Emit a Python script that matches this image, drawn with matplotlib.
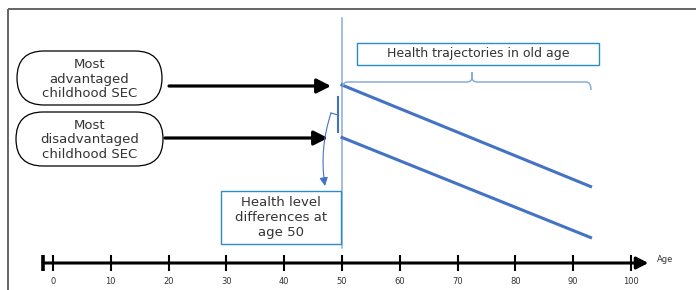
import numpy as np
import matplotlib.pyplot as plt
from matplotlib.patches import FancyBboxPatch, FancyArrowPatch, Rectangle
from matplotlib.path import Path
from matplotlib.patches import PathPatch

#%% values
tick_ages = [0, 10, 20, 30, 40, 50, 60, 70, 80, 90, 100]
axis_start, axis_end = -1.7, 103
traj_ages = [50, 93]
advantaged_health = [205, 103.5]
disadvantaged_health = [152.5, 52.5]
group_labels = ['Most\nadvantaged\nchildhood SEC', 'Most\ndisadvantaged\nchildhood SEC']

blue = '#4472c4'
light_blue = '#8eaadb'
box_blue = '#2a8ccc'
txt = '#333333'

fig = plt.figure(figsize=(6.96, 2.90), dpi=100)
ax = fig.add_axes([0, 0, 1, 1])
ax.set_xlim(-53 / 5.78, (696 - 53) / 5.78)
ax.set_ylim(0, 290)
ax.axis('off')

# overlay in pixel units for the annotation boxes
lay = fig.add_axes([0, 0, 1, 1], facecolor='none')
lay.set_xlim(0, 696)
lay.set_ylim(290, 0)
lay.axis('off')

#%% frame
lay.plot([8, 696], [8.5, 8.5], color='#595959', lw=1.3, solid_capstyle='butt')
lay.plot([8, 8], [8.5, 290], color='#595959', lw=1.3, solid_capstyle='butt')

#%% age axis
ax.annotate('', xy=(axis_end, 27), xytext=(axis_start, 27),
            arrowprops=dict(arrowstyle='-|>,head_length=7,head_width=3.6', mutation_scale=1,
                            lw=2.2, color='black', shrinkA=0, shrinkB=0))
ax.plot([axis_start, axis_start], [19, 35], color='black', lw=2.6, solid_capstyle='butt')
for a in tick_ages:
    ax.plot([a, a], [19, 35], color='black', lw=1.5, solid_capstyle='butt')
    ax.text(a, 9, str(a), ha='center', va='center', fontsize=6, color=txt)
ax.text(104.5, 31, 'Age', ha='left', va='center', fontsize=6, color=txt)

#%% age 50 line and trajectories
ax.plot([50, 50], [42, 272], color=light_blue, lw=1.1)
ax.plot(traj_ages, advantaged_health, color=blue, lw=2.2)
ax.plot(traj_ages, disadvantaged_health, color=blue, lw=2.2)

#%% pills with arrows
pills = [(17, 51, 145, 54), (16, 112, 147, 54)]
arrows = [((169, 86), (331, 86)), ((165, 138), (328, 138))]
for (x0, y0, w, h), lab, (p0, p1) in zip(pills, group_labels, arrows):
    lay.add_patch(FancyBboxPatch((x0, y0), w, h, boxstyle='round,pad=0,rounding_size=27',
                                 fc='white', ec='black', lw=0.9))
    lay.text(x0 + w / 2, y0 + h / 2 + 1, lab, ha='center', va='center',
             fontsize=9.5, color=txt, linespacing=1.15)
    lay.add_patch(FancyArrowPatch(p0, p1, arrowstyle='-|>,head_length=8.5,head_width=4.3',
                                  mutation_scale=1, lw=2.3, color='black',
                                  shrinkA=0, shrinkB=0))

#%% trajectories box and brace
lay.add_patch(Rectangle((357, 43), 242, 22, fc='white', ec=box_blue, lw=1.0))
lay.text(478, 54, 'Health trajectories in old age', ha='center', va='center',
         fontsize=9, color=txt)
brace = Path([(343, 86), (343, 82), (348, 82), (467, 82), (472, 82), (472, 77), (472, 72),
              (472, 77), (472, 82), (477, 82), (586, 82), (591, 82), (591, 90)],
             [Path.MOVETO, Path.CURVE3, Path.CURVE3, Path.LINETO, Path.CURVE3, Path.CURVE3,
              Path.LINETO, Path.LINETO, Path.CURVE3, Path.CURVE3, Path.LINETO, Path.CURVE3,
              Path.CURVE3])
lay.add_patch(PathPatch(brace, fc='none', ec=light_blue, lw=1.1))

#%% level difference bracket and box
lay.plot([338, 338], [97, 132], color=blue, lw=1.5)
lay.plot([331, 338], [113, 115], color=blue, lw=0.8)
lay.add_patch(FancyArrowPatch((331, 113), (325, 186), connectionstyle='arc3,rad=0.12',
                              arrowstyle='-|>,head_length=5,head_width=2.5', mutation_scale=1,
                              lw=0.8, color=blue, shrinkA=0, shrinkB=0))
lay.add_patch(Rectangle((221, 191), 120, 53, fc='white', ec=box_blue, lw=1.0))
lay.text(281, 217.5, 'Health level\ndifferences at\nage 50', ha='center', va='center',
         fontsize=9.5, color=txt, linespacing=1.2)

fig.savefig('out.png', dpi=100)
